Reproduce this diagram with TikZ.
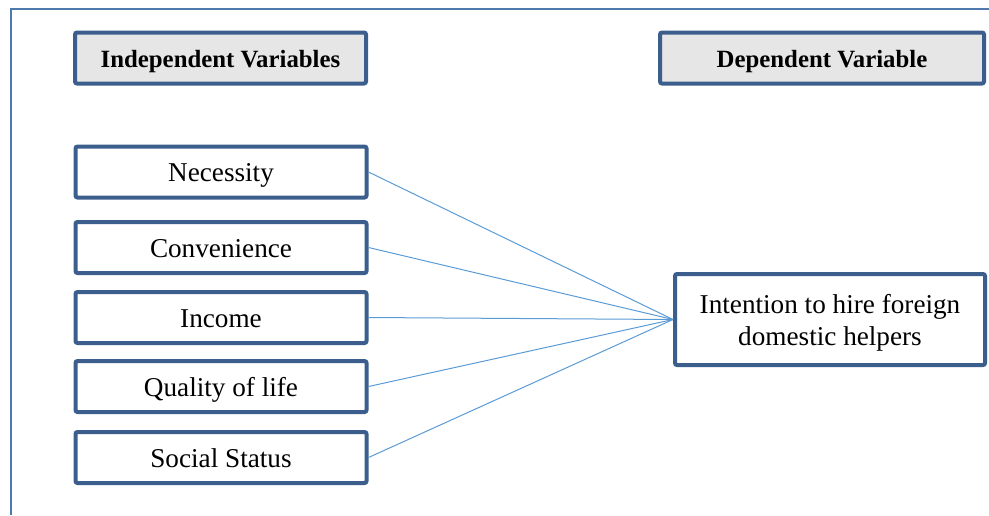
\documentclass[tikz,border=0pt]{standalone}
\usepackage{fontspec}
\setmainfont{Liberation Serif}
\definecolor{boxblue}{HTML}{3B5E8C}
\definecolor{framblue}{HTML}{4F7AAD}
\definecolor{linkblue}{HTML}{5B9BD5}
\definecolor{headgray}{HTML}{E6E6E6}
\tikzset{
  varbox/.style={draw=boxblue, line width=2pt, rounded corners=1pt, fill=white,
    minimum width=145.5pt, minimum height=25.5pt, inner sep=2pt, align=center,
    text height=9.5pt, text depth=0pt,
    font=\fontsize{13.6}{16}\selectfont},
  headbox/.style={varbox, fill=headgray, text height=9.5pt,
    font=\fontsize{12.4}{15}\selectfont\bfseries},
  link/.style={draw=linkblue, line width=0.5pt}
}
\begin{document}
\begin{tikzpicture}[x=0.5pt,y=-0.5pt]
        \useasboundingbox (0,0) rectangle (989,515);
        \draw[framblue, line width=1.1pt] (989,9) -- (11,9) -- (11,515);
        \node[headbox] (indep) at (220.5,58) {Independent Variables};
        \node[headbox, minimum width=162pt] (dep) at (822,58) {Dependent Variable};
        \node[varbox] (nec) at (221,172) {Necessity};
        \node[varbox] (conv) at (221,247.5) {Convenience};
        \node[varbox] (inc) at (221,317.5) {Income};
        \node[varbox] (qol) at (221,386.5) {Quality of life};
        \node[varbox] (soc) at (221,457.5) {Social Status};
        \node[varbox, minimum width=155pt, minimum height=45.5pt, text height=25.5pt] (hire) at (830,319.5)
          {Intention to hire foreign\\domestic helpers};
        \foreach \v in {nec, conv, inc, qol, soc}{
          \draw[link] (\v.east) -- (hire.west);
        }
      \end{tikzpicture}
\end{document}
